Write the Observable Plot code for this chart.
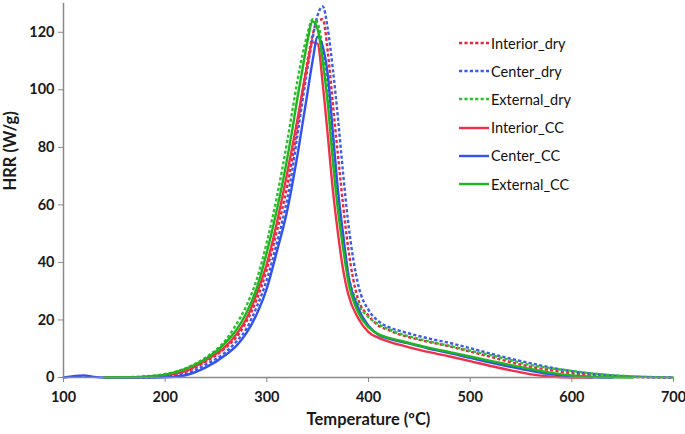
<!DOCTYPE html>
<html>
<head>
<meta charset="utf-8">
<script src="https://cdn.jsdelivr.net/npm/d3@7"></script>
<script src="https://cdn.jsdelivr.net/npm/@observablehq/plot@0.6"></script>
<style>
  html, body { margin: 0; padding: 0; background: #fff; }
  #wrap { position: relative; width: 685px; height: 434px; font-family: Lato, "Open Sans", sans-serif; }
  #wrap > svg text { font-weight: bold; fill: #1a1a1a; }
  #legend { position: absolute; left: 458px; top: 29px; font-family: Lato, "Open Sans", sans-serif; font-size: 14.5px; color: #111; }
  #legend .row { height: 28.2px; display: flex; align-items: center; }
  #legend svg { margin-right: 2px; }
</style>
</head>
<body>
<div id="wrap"></div>
<script>
// Temperature grid (ºC)
const temperature = [100,120,130,140,160,180,200,220,240,260,270,280,290,300,310,320,325,330,335,340,345,350,355,360,365,370,375,380,390,400,410,420,430,440,460,480,500,520,540,560,580,600,620,640,660,680,700];

// HRR (W/g) per series, null = not drawn
const interiorDry = [null,null,null,0,0,0.2,0.7,2,5.5,10.5,14,19.5,27,37.5,51,66.5,76,87,99,110,119,124,124.5,113,95,77,60,45,27,21.5,18,16.5,15,14,12.3,10.8,9,7.2,5.3,3.7,2.5,1.5,0.9,0.5,0.2,0.05,0];
const centerDry   = [null,null,null,0,0,0,0.3,1.2,4.5,9,12.5,17,24.5,34,47,62,72,84,96,107.5,118,126,129,121,107,90,71,54,32,23.5,19.5,17.5,16.3,15.3,13.5,12,10.2,8.3,6.5,4.9,3.4,2.2,1.3,0.7,0.3,0.1,0];
const externalDry = [null,null,null,0,0.1,0.4,1.2,3.2,7,13.2,18.5,25,34,47,63,82,92.5,103,112,119.5,124.5,123,114,99.5,80,61,48,36,25.5,21,18.5,16.8,15.3,14.3,12.5,11,9.3,7.8,6,4.3,3.2,2.3,1.4,0.8,0.4,0.15,0];
const interiorCC  = [null,null,null,0,0,0.2,0.8,2.2,6,11,15,20.5,29,39.5,54,71,80,89.5,99.5,109,116.5,116,102,84,65,50,37.5,29,20.5,15.8,13.8,12.5,11.4,10.5,8.8,7.3,5.7,4,2.5,1.1,0.3,0,0,null,null,null,null];
const centerCC    = [0,0.7,0.2,0,0,0,0.1,0.8,3.5,8,11,15.5,22,31,44,58,67,77,88,99,110,118.5,115,105,85,65,50,36,24,18,14.8,13.5,12.6,11.8,10,8.5,6.8,5.2,3.7,2.3,1.1,0.4,0.1,0,null,null,null];
const externalCC  = [null,null,null,0,0.1,0.3,1,3,6.5,12.3,16.5,22.5,31,43.5,58.5,76,86,97,107,117,123.8,121,110,95,75,58,45,33.6,22.5,17.5,15,13.8,12.9,12,10.3,8.8,7.3,5.8,4.3,2.9,1.6,0.7,0.3,0.1,0,null,null];

const seriesNames  = ["Interior_dry","Center_dry","External_dry","Interior_CC","Center_CC","External_CC"];
const seriesValues = [interiorDry, centerDry, externalDry, interiorCC, centerCC, externalCC];
const seriesColors = ["#e8283f","#3b5be8","#2cc12c","#f0304a","#3352ec","#1fb51f"];
const seriesDashed = [true,true,true,false,false,false];

const xTicks = [100,200,300,400,500,600,700];
const yTicks = [0,20,40,60,80,100,120];
const xTitle = "Temperature (ºC)";
const yTitle = "HRR (W/g)";

const marks = [];
seriesNames.forEach((name, i) => {
  const rows = temperature.map((t, j) => ({T: t, HRR: seriesValues[i][j]})).filter(d => d.HRR != null);
  marks.push(Plot.line(rows, {
    x: "T", y: "HRR", stroke: seriesColors[i], strokeWidth: 2.4,
    strokeDasharray: seriesDashed[i] ? "3.2 2.2" : null,
    strokeLinecap: seriesDashed[i] ? "butt" : "round",
    curve: "monotone-x"
  }));
});

const chart = Plot.plot({
  width: 685,
  height: 434,
  marginLeft: 63,
  marginRight: 12,
  marginTop: 3,
  marginBottom: 57,
  style: { fontFamily: "Lato, 'Open Sans', sans-serif", fontSize: "14px", background: "#fff" },
  x: { domain: [100, 700] },
  y: { domain: [0, 130] },
  marks: [
    ...marks,
    Plot.ruleY([0], { stroke: "#8a8a8a", strokeWidth: 1.5 }),
    Plot.ruleX([100], { y1: 0, y2: 130, stroke: "#8a8a8a", strokeWidth: 1.5 }),
    Plot.axisX(xTicks, { tickSize: 5, tickPadding: 9, stroke: "#8a8a8a", label: null, fontSize: 14.5 }),
    Plot.axisY(yTicks, { tickSize: 5, tickPadding: 4, stroke: "#8a8a8a", label: null, fontSize: 14.5 }),
    Plot.text([xTitle], { frameAnchor: "bottom", dy: 47, fontSize: 16.5, fontWeight: "bold", fill: "#1a1a1a" }),
    Plot.text([yTitle], { frameAnchor: "left", rotate: -90, dx: -53, fontSize: 16.5, fontWeight: "bold", fill: "#1a1a1a" })
  ]
});

const wrap = document.getElementById("wrap");
wrap.appendChild(chart);

const legend = document.createElement("div");
legend.id = "legend";
seriesNames.forEach((name, i) => {
  const row = document.createElement("div");
  row.className = "row";
  row.innerHTML = `<svg width="31" height="6"><line x1="1" y1="3" x2="31" y2="3" stroke="${seriesColors[i]}" stroke-width="2.4" ${seriesDashed[i] ? 'stroke-dasharray="3.2 2.2"' : ''}/></svg><span>${name}</span>`;
  legend.appendChild(row);
});
wrap.appendChild(legend);
</script>
</body>
</html>
